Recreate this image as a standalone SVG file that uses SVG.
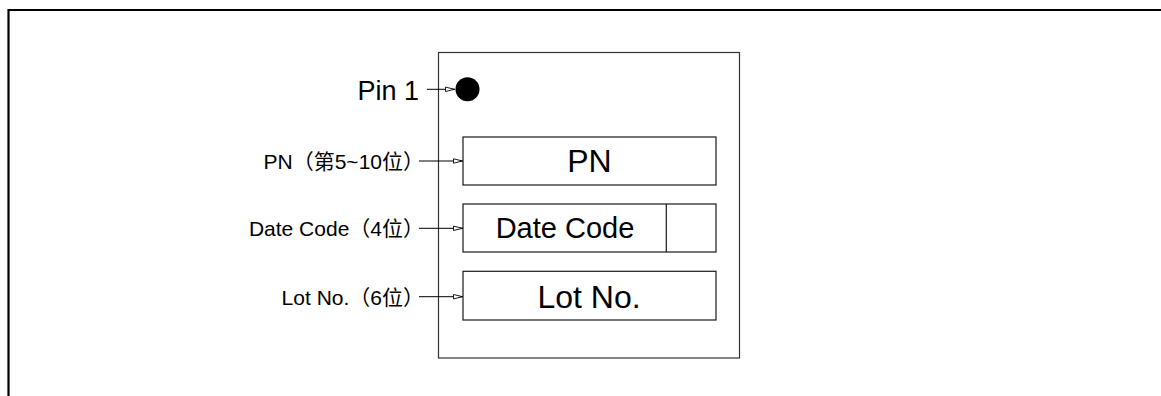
<svg xmlns="http://www.w3.org/2000/svg" width="1161" height="396" viewBox="0 0 1161 396">
<style>
.frame{fill:none;stroke:#000;stroke-width:2.2}
.body{fill:#fff;stroke:#333;stroke-width:1.2}
.box{fill:#fff;stroke:#1a1a1a;stroke-width:1.2}
.big{font-family:"Liberation Sans",Arial,sans-serif;fill:#000}
.lbl{font-family:"Liberation Sans","Noto Sans CJK SC",sans-serif;font-size:21px;fill:#000}
.conn{stroke:#000;stroke-width:1;fill:none}
</style>
<defs>
<marker id="ah" viewBox="0 0 10 6" refX="10" refY="3" markerWidth="10" markerHeight="6" markerUnits="userSpaceOnUse" orient="auto">
<path d="M0.5,0.8 L9.5,3 L0.5,5.2 Z" fill="#fff" stroke="#000" stroke-width="0.9"/>
</marker>
</defs>
<rect width="1161" height="396" fill="#fff"/>
<path class="frame" d="M8.5,396 V10 H1161"/>
<g id="chip">
<rect class="body" x="438.5" y="52.5" width="301" height="305.5"/>
</g>
<g id="pin1">
<circle cx="467.5" cy="89.3" r="12" fill="#000"/>
<text class="big" x="419" y="100" font-size="27" text-anchor="end">Pin 1</text>
</g>
<g id="pn">
<rect class="box" x="463" y="137" width="253" height="48"/>
<text class="big" x="589.5" y="171.5" font-size="32" text-anchor="middle">PN</text>
</g>
<g id="datecode">
<rect class="box" x="463" y="204" width="253" height="48"/>
<line class="box" x1="666.3" y1="204" x2="666.3" y2="252"/>
<text class="big" x="565" y="238.3" font-size="29" text-anchor="middle">Date Code</text>
</g>
<g id="lotno">
<rect class="box" x="463" y="271.3" width="253" height="48.7"/>
<text class="big" x="589" y="308.3" font-size="32" text-anchor="middle">Lot No.</text>
</g>
<g id="labels">
<text class="lbl" x="424" y="169.3" text-anchor="end">PN（第5~10位）</text>
<text class="lbl" x="424" y="236" text-anchor="end">Date Code（4位）</text>
<text class="lbl" x="424" y="305" text-anchor="end">Lot No.（6位）</text>
</g>
<g id="connectors">
<line class="conn" x1="427" y1="89.3" x2="455" y2="89.3" marker-end="url(#ah)"/>
<line class="conn" x1="419" y1="161" x2="463" y2="161" marker-end="url(#ah)"/>
<line class="conn" x1="419" y1="228.3" x2="463" y2="228.3" marker-end="url(#ah)"/>
<line class="conn" x1="419" y1="296.7" x2="463" y2="296.7" marker-end="url(#ah)"/>
</g>
</svg>
